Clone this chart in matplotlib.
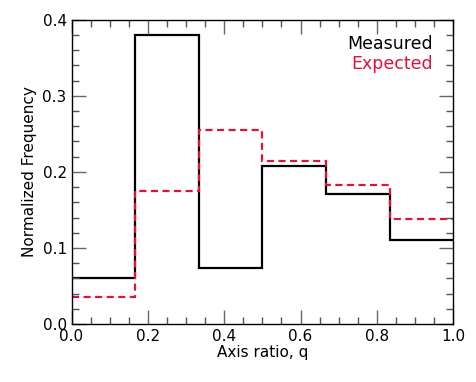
import numpy as np
import matplotlib.pyplot as plt
from matplotlib.ticker import MultipleLocator

edges = np.linspace(0, 1, 7)
measured = [0.060, 0.380, 0.073, 0.208, 0.171, 0.110]
expected = [0.036, 0.175, 0.255, 0.214, 0.183, 0.138]

fig = plt.figure(figsize=(4.77, 3.82), dpi=100)
ax = fig.add_axes([0.150, 0.152, 0.800, 0.796])

ax.stairs(measured, edges, baseline=None, color='black', linewidth=1.6)
ax.stairs(expected, edges, baseline=None, color='#DC143C', linewidth=1.6,
          linestyle=(0, (3.2, 2)))

ax.set_xlim(0, 1)
ax.set_ylim(0, 0.4)
ax.xaxis.set_major_locator(MultipleLocator(0.2))
ax.xaxis.set_minor_locator(MultipleLocator(0.05))
ax.yaxis.set_major_locator(MultipleLocator(0.1))
ax.yaxis.set_minor_locator(MultipleLocator(0.02))
ax.tick_params(which='both', direction='in', top=True, right=True, labelsize=11)
ax.tick_params(which='major', length=10, width=1, color='#666666', pad=3.5)
ax.tick_params(which='minor', length=5, width=1, color='#555555')
for s in ax.spines.values():
    s.set_linewidth(1)

ax.set_xlabel('Axis ratio, q', fontsize=11, labelpad=1)
ax.set_ylabel('Normalized Frequency', fontsize=11)

ax.text(0.948, 0.905, 'Measured', transform=ax.transAxes, ha='right', fontsize=12.5, color='black')
ax.text(0.948, 0.84, 'Expected', transform=ax.transAxes, ha='right', fontsize=12.5, color='#DC143C')

fig.savefig('out.png', dpi=100)
